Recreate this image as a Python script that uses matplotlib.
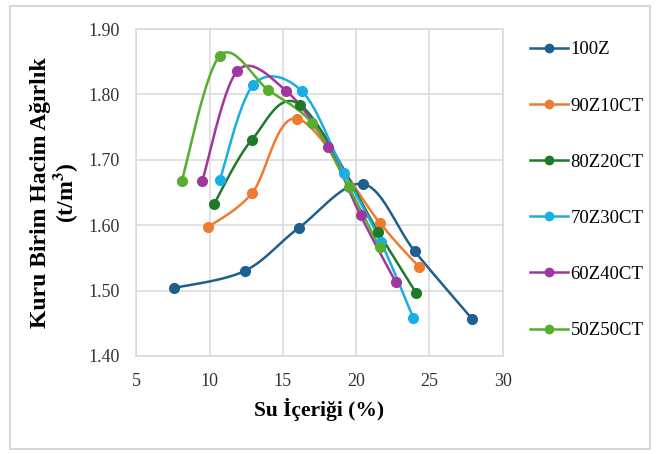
import matplotlib.pyplot as plt
import numpy as np
from matplotlib.patches import Rectangle

plt.rcParams['font.family'] = ['Liberation Serif', 'DejaVu Serif']
plt.rcParams['mathtext.fontset'] = 'stix'

# su icerigi (%) ve kuru birim hacim agirlik (t/m3)
w_100z = [7.6, 12.4, 16.1, 20.5, 24.0, 27.9]
d_100z = [1.504, 1.530, 1.596, 1.663, 1.560, 1.457]

w_90z10ct = [9.9, 12.9, 16.0, 21.6, 24.3]
d_90z10ct = [1.597, 1.649, 1.763, 1.604, 1.536]

w_80z20ct = [10.3, 12.9, 16.2, 21.5, 24.1]
d_80z20ct = [1.632, 1.731, 1.784, 1.590, 1.496]

w_70z30ct = [10.7, 13.0, 16.3, 19.2, 21.7, 23.9]
d_70z30ct = [1.669, 1.815, 1.805, 1.680, 1.574, 1.458]

w_60z40ct = [9.5, 11.9, 15.2, 18.1, 20.3, 22.7]
d_60z40ct = [1.667, 1.836, 1.806, 1.720, 1.615, 1.513]

w_50z50ct = [8.1, 10.7, 14.0, 17.0, 19.5, 21.6]
d_50z50ct = [1.667, 1.859, 1.807, 1.756, 1.658, 1.566]

labels = ['100Z', '90Z10CT', '80Z20CT', '70Z30CT', '60Z40CT', '50Z50CT']
colors = ['#1f5f8e', '#ef7b30', '#1e7a2a', '#18aee6', '#a0369e', '#56ad2e']


def smooth(x, y, n=30):
    # Catmull-Rom style bezier, like excel's smoothed line
    p = np.column_stack([x, y]).astype(float)
    p = np.vstack([p[0], p, p[-1]])
    out = []
    t = np.linspace(0, 1, n)[:, None]
    for i in range(1, len(p) - 2):
        p0, p1 = p[i], p[i + 1]
        c1 = p0 + (p[i + 1] - p[i - 1]) / 6
        c2 = p1 - (p[i + 2] - p[i]) / 6
        seg = ((1 - t) ** 3) * p0 + 3 * ((1 - t) ** 2) * t * c1 \
            + 3 * (1 - t) * t ** 2 * c2 + t ** 3 * p1
        out.append(seg)
    out = np.vstack(out)
    return out[:, 0], out[:, 1]


fig = plt.figure(figsize=(6.58, 4.54), dpi=100)
ax = fig.add_axes([0.207, 0.216, 0.557, 0.72])

series = [(w_100z, d_100z), (w_90z10ct, d_90z10ct), (w_80z20ct, d_80z20ct),
          (w_70z30ct, d_70z30ct), (w_60z40ct, d_60z40ct), (w_50z50ct, d_50z50ct)]

handles = []
for (w, d), lab, c in zip(series, labels, colors):
    sx, sy = smooth(w, d)
    ax.plot(sx, sy, color=c, lw=1.8, zorder=3)
    ax.plot(w, d, 'o', color=c, ms=7, zorder=4)
    h, = ax.plot([], [], '-o', color=c, lw=1.8, ms=6, label=lab)
    handles.append(h)

ax.set_xlim(5, 30)
ax.set_ylim(1.40, 1.90)
ax.set_xticks([5, 10, 15, 20, 25, 30])
ax.set_yticks(np.arange(1.40, 1.91, 0.10))
ax.set_yticklabels(['%.2f' % v for v in np.arange(1.40, 1.91, 0.10)])
ax.tick_params(length=0, labelsize=13, colors='#333333')
ax.tick_params(axis='y', pad=12)
ax.tick_params(axis='x', pad=12)
ax.grid(True, color='#d9d9d9', lw=1.1)
ax.set_axisbelow(True)
for s in ax.spines.values():
    s.set_color('#d9d9d9')
    s.set_linewidth(1.1)

ax.set_xlabel('Su İçeriği (%)', fontsize=15.5, fontweight='bold', labelpad=6)
ax.set_ylabel('Kuru Birim Hacim Ağırlık\n(t/m$^{\\mathbf{3}}$)', fontsize=17,
              fontweight='bold', labelpad=6, linespacing=1.0)

fig.legend(handles=handles, loc='upper left', bbox_to_anchor=(0.806, 0.909),
           frameon=False, fontsize=13.5, labelspacing=2.08, handlelength=2.0,
           handletextpad=0.15, borderpad=0, borderaxespad=0)

# outer chart frame
fig.patches.append(Rectangle((0.015, 0.011), 0.973, 0.976, transform=fig.transFigure,
                             fill=False, edgecolor='#d0d0d0', lw=1.2))

fig.savefig('out.png', dpi=100)
